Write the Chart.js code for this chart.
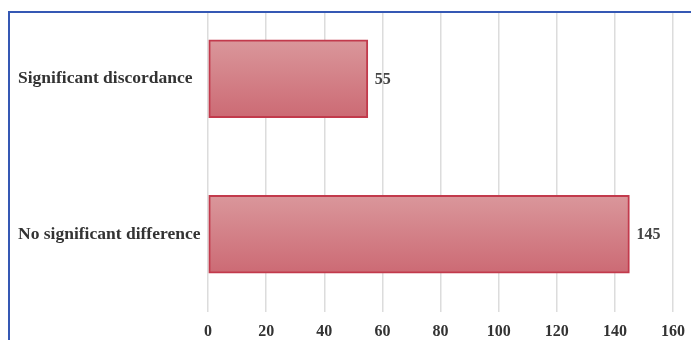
<!DOCTYPE html>
<html>
<head>
<meta charset="utf-8">
<script src="https://cdn.jsdelivr.net/npm/chart.js@4"></script>
<style>
  html, body { margin: 0; padding: 0; background: #fff; }
  #wrap { position: relative; width: 691px; height: 340px; }
</style>
</head>
<body>
<div id="wrap"><canvas id="chart"></canvas></div>
<script>
const categories = ["Significant discordance", "No significant difference"];
const counts = [55, 145];
const xTicks = [0, 20, 40, 60, 80, 100, 120, 140, 160];

const serif = "'Liberation Serif', 'Times New Roman', serif";

function barFill(context) {
    const chart = context.chart;
    const yScale = chart.scales.y;
    if (!yScale || context.dataIndex === undefined) return "#d4808a";
    const mid = yScale.getPixelForValue(context.dataIndex);
    if (!isFinite(mid)) return "#d4808a";
    const half = 39;
    const g = chart.ctx.createLinearGradient(0, mid - half, 0, mid + half);
    g.addColorStop(0, "#da979b");
    g.addColorStop(1, "#cc6a74");
    return g;
}

// value labels at the bar ends
const valueLabels = {
    id: "valueLabels",
    afterDatasetsDraw(chart) {
        const ctx = chart.ctx;
        const meta = chart.getDatasetMeta(0);
        ctx.save();
        ctx.font = "bold 16px " + serif;
        ctx.fillStyle = "#444";
        ctx.textAlign = "left";
        ctx.textBaseline = "middle";
        meta.data.forEach((bar, i) => {
            ctx.fillText(counts[i], bar.x + 7, bar.y + 1);
        });
        ctx.restore();
    }
};

// blue frame of the cropped figure
const frame = {
    id: "frame",
    afterDraw(chart) {
        const ctx = chart.ctx;
        const w = chart.width, h = chart.height;
        ctx.save();
        ctx.fillStyle = "#fff";
        ctx.fillRect(0, 0, w, 11);
        ctx.fillRect(0, 0, 8, h);
        ctx.strokeStyle = "#3558b4";
        ctx.lineWidth = 2;
        ctx.beginPath();
        ctx.moveTo(w, 12);
        ctx.lineTo(9, 12);
        ctx.lineTo(9, h);
        ctx.stroke();
        ctx.restore();
    }
};

new Chart(document.getElementById("chart"), {
    type: "bar",
    data: {
        labels: categories,
        datasets: [{
            data: counts,
            backgroundColor: barFill,
            borderColor: "#c23a4c",
            borderWidth: 2,
            borderSkipped: false,
            barThickness: 78
        }]
    },
    options: {
        indexAxis: "y",
        responsive: true,
        maintainAspectRatio: false,
        animation: false,
        layout: { padding: { left: 18, right: 18, top: 1, bottom: 0 } },
        plugins: { legend: { display: false }, tooltip: { enabled: false } },
        scales: {
            x: {
                min: xTicks[0],
                max: xTicks[xTicks.length - 1],
                afterBuildTicks: scale => { scale.ticks = xTicks.map(v => ({ value: v })); },
                afterFit: scale => { scale.height = 28; scale.paddingLeft = 0; scale.paddingRight = 0; },
                grid: { color: "#dcdcdc", lineWidth: 1.5, drawTicks: false },
                border: { display: false },
                ticks: { color: "#333", font: { family: serif, size: 16, weight: "bold" }, padding: 10 }
            },
            y: {
                afterFit: scale => { scale.width = 190; scale.paddingTop = 0; scale.paddingBottom = 0; },
                grid: { display: false },
                border: { display: false },
                ticks: { color: "#333", font: { family: serif, size: 17.5, weight: "bold" }, crossAlign: "far" }
            }
        }
    },
    plugins: [valueLabels, frame]
});
</script>
</body>
</html>
